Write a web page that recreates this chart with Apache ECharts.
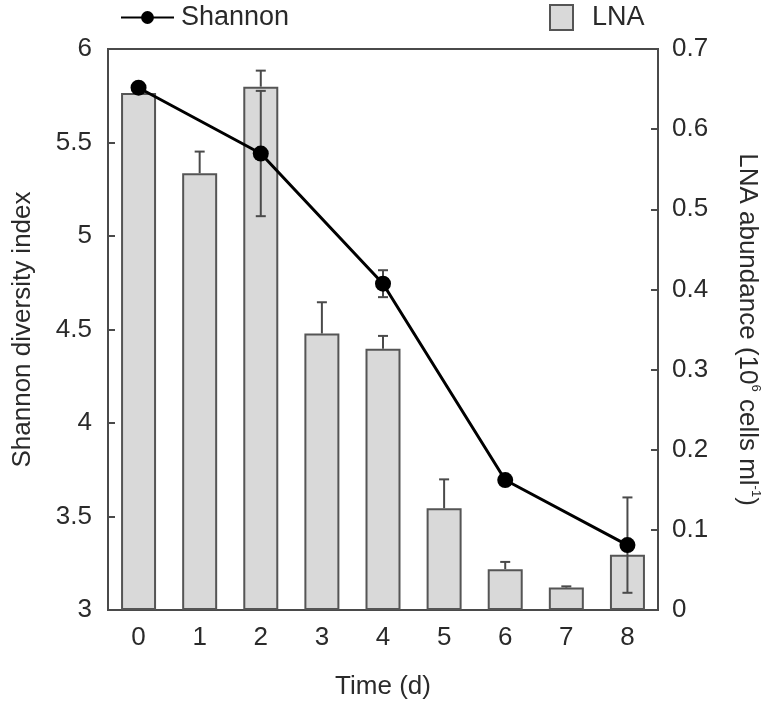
<!DOCTYPE html>
<html>
<head>
<meta charset="utf-8">
<script src="https://cdn.jsdelivr.net/npm/echarts@6/dist/echarts.min.js"></script>
<style>html,body{margin:0;padding:0;background:#fff}#c{width:770px;height:705px}</style>
</head>
<body>
<div id="c"></div>
<script>
var days = ['0', '1', '2', '3', '4', '5', '6', '7', '8'];
var shannon = [5.793, null, 5.441, null, 4.745, null, 3.695, null, 3.347];
var shannonErr = [0, null, 0.335, null, 0.072, null, 0, null, 0.255];
var lna = [0.645, 0.545, 0.653, 0.345, 0.326, 0.127, 0.051, 0.028, 0.069];
var lnaErr = [0, 0.027, 0.020, 0.039, 0.016, 0.036, 0.009, 0.0015, 0];
var leftTicks = [3, 6, 0.5];
var rightTicks = [0, 0.7, 0.1];

var FONT = 'Liberation Sans';
var TXT = '#2a2a2a';
var LINE = '#4a4a4a';

function errData(vals, errs, up, down) {
  var out = [];
  for (var i = 0; i < vals.length; i++) {
    if (vals[i] == null || errs[i] == null || errs[i] === 0) continue;
    out.push([i, up ? vals[i] + errs[i] : vals[i], down ? vals[i] - errs[i] : vals[i]]);
  }
  return out;
}

function errRender(capUp, capDown) {
  return function (params, api) {
    var x = api.value(0);
    var hi = api.coord([x, api.value(1)]);
    var lo = api.coord([x, api.value(2)]);
    var w = 5;
    var st = { stroke: LINE, lineWidth: 2 };
    var children = [{ type: 'line', shape: { x1: hi[0], y1: hi[1], x2: lo[0], y2: lo[1] }, style: st }];
    if (capUp) children.push({ type: 'line', shape: { x1: hi[0] - w, y1: hi[1], x2: hi[0] + w, y2: hi[1] }, style: st });
    if (capDown) children.push({ type: 'line', shape: { x1: lo[0] - w, y1: lo[1], x2: lo[0] + w, y2: lo[1] }, style: st });
    return { type: 'group', children: children };
  };
}

var chart = echarts.init(document.getElementById('c'));
chart.setOption({
  animation: false,
  backgroundColor: '#fff',
  textStyle: { fontFamily: FONT },
  legend: [
    {
      data: ['Shannon'], left: 120, top: 4, padding: 0, itemWidth: 53, itemHeight: 16,
      textStyle: { fontFamily: FONT, fontSize: 27, color: TXT, padding: [0, 0, 0, 2] }
    },
    {
      data: [{ name: 'LNA', icon: 'rect' }], left: 549, top: 4, padding: 0, itemWidth: 23, itemHeight: 25,
      textStyle: { fontFamily: FONT, fontSize: 27, color: TXT, padding: [0, 0, 0, 14] }
    }
  ],
  grid: { left: 108, right: 112, top: 49, bottom: 92, show: true, borderColor: LINE, borderWidth: 2, backgroundColor: 'transparent' },
  xAxis: {
    type: 'category', data: days, boundaryGap: true,
    name: 'Time (d)', nameLocation: 'middle', nameGap: 64,
    nameTextStyle: { fontFamily: FONT, fontSize: 26, color: TXT },
    axisLine: { lineStyle: { color: LINE, width: 2 } },
    axisTick: { show: false },
    axisLabel: { fontFamily: FONT, fontSize: 26, color: TXT, margin: 15 }
  },
  yAxis: [
    {
      type: 'value', min: leftTicks[0], max: leftTicks[1], interval: leftTicks[2], position: 'left',
      name: 'Shannon diversity index', nameLocation: 'middle', nameGap: 72, nameRotate: 90,
      nameTextStyle: { fontFamily: FONT, fontSize: 26, color: TXT },
      axisLine: { show: true, lineStyle: { color: LINE, width: 2 } },
      axisTick: { show: true, inside: true, length: 7, lineStyle: { color: LINE, width: 2 } },
      axisLabel: { fontFamily: FONT, fontSize: 26, color: TXT, margin: 16 },
      splitLine: { show: false }
    },
    {
      type: 'value', min: rightTicks[0], max: rightTicks[1], interval: rightTicks[2], position: 'right',
      name: 'LNA abundance (10{sup|6} cells ml{sup|-1})', nameLocation: 'middle', nameGap: 74, nameRotate: -90,
      nameTextStyle: {
        fontFamily: FONT, fontSize: 26, color: TXT, lineHeight: 30,
        rich: { sup: { fontFamily: FONT, fontSize: 13, color: TXT, verticalAlign: 'top', lineHeight: 30, padding: [0, 0, 12, 0] } }
      },
      axisLine: { show: true, lineStyle: { color: LINE, width: 2 } },
      axisTick: { show: true, inside: true, length: 7, lineStyle: { color: LINE, width: 2 } },
      axisLabel: { fontFamily: FONT, fontSize: 26, color: TXT, margin: 14 },
      splitLine: { show: false }
    }
  ],
  series: [
    {
      name: 'LNA', type: 'bar', yAxisIndex: 1, data: lna, barWidth: 35,
      itemStyle: { color: '#d9d9d9', borderColor: '#555', borderWidth: 2 }, z: 2
    },
    {
      type: 'custom', yAxisIndex: 1, data: errData(lna, lnaErr, true, false),
      renderItem: errRender(true, false), encode: { x: 0, y: [1, 2] }, z: 3, silent: true
    },
    {
      name: 'Shannon', type: 'line', yAxisIndex: 0, data: shannon, connectNulls: true,
      symbol: 'circle', symbolSize: 16,
      lineStyle: { color: '#000', width: 3 }, itemStyle: { color: '#000' }, z: 5
    },
    {
      type: 'custom', yAxisIndex: 0, data: errData(shannon, shannonErr, true, true),
      renderItem: errRender(true, true), encode: { x: 0, y: [1, 2] }, z: 4, silent: true
    }
  ]
});
</script>
</body>
</html>
